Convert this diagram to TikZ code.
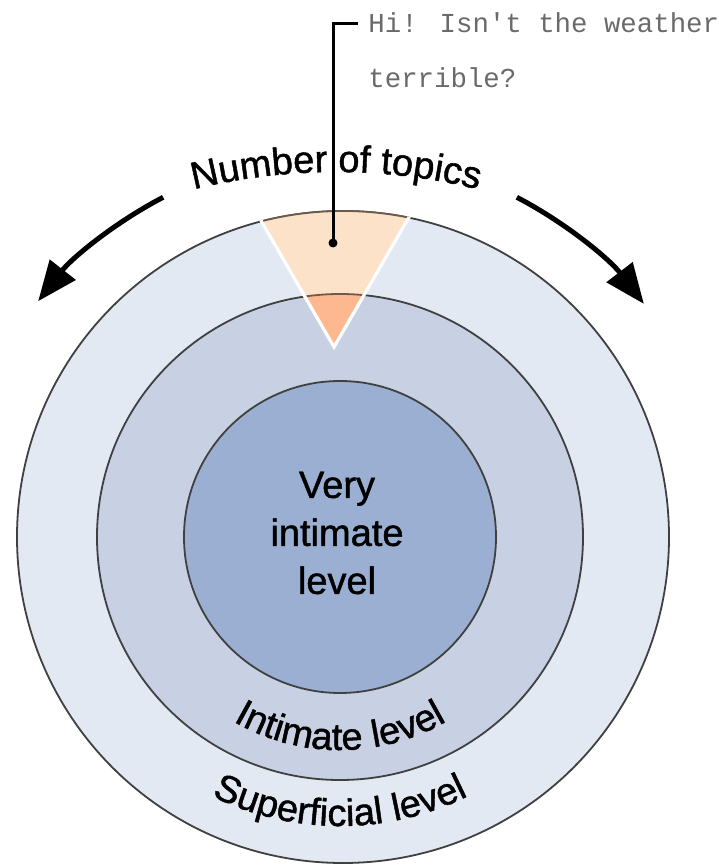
\documentclass[tikz,border=0pt]{standalone}
\usepackage{fontspec}
\setmainfont{Liberation Sans}
\newfontfamily\labelfont{Liberation Sans}[FakeBold=1.2]
\newfontfamily\saymono{Liberation Mono}
\usepackage{xcolor}
\usepackage{tikz}
\usetikzlibrary{arrows.meta, decorations.text}
\definecolor{ringouter}{HTML}{E3E9F3}
\definecolor{ringmiddle}{HTML}{C8D1E3}
\definecolor{ringinner}{HTML}{9AAFD1}
\definecolor{peachlight}{HTML}{FDE2CA}
\definecolor{peachdark}{HTML}{FDB88F}
\definecolor{ringline}{HTML}{404040}
\definecolor{wedgeline}{HTML}{6E5A4C}
\definecolor{saygray}{HTML}{6A6A6A}

\begin{document}
\begin{tikzpicture}[x=0.5pt, y=0.5pt,
      ring/.style={draw=ringline, line width=0.9pt},
      topicarrow/.style={line width=2.5pt, -{Triangle[length=20pt, width=16pt]}},
      leader/.style={line width=1.5pt},
      saytext/.style={font=\saymono\fontsize{13.7}{16}\selectfont, text=saygray, inner xsep=5pt, inner ysep=0pt},
      coretext/.style={font=\labelfont\fontsize{19}{24}\selectfont, align=center},
      arclabel/.style={decorate, decoration={text along path, text align=center, text={|\labelfont\fontsize{19}{19}\selectfont|#1}}}]
    \useasboundingbox (-340,-329) rectangle (378,537);
    \fill[white] (-340,-329) rectangle (378,537);
    \foreach \x/\y/\r/\col in {3/0/326/ringouter, 0/0/243/ringmiddle, 0/0/156/ringinner} {
      \filldraw[ring, fill=\col] (\x,\y) circle[radius=\r];
    }
    \begin{scope}
      \clip (3,0) circle[radius=326];
      \fill[peachlight] (-6,190) -- (-131,406.5) -- (119,406.5) -- cycle;
      \clip (0,0) circle[radius=243];
      \fill[peachdark] (-6,190) -- (-131,406.5) -- (119,406.5) -- cycle;
    \end{scope}
    \begin{scope}
      \clip (-6,190) -- (-131,406.5) -- (119,406.5) -- cycle;
      \draw[wedgeline, line width=0.9pt] (3,0) circle[radius=326];
      \draw[wedgeline, line width=0.9pt] (0,0) circle[radius=243];
    \end{scope}
    \begin{scope}
      \clip (3,0) circle[radius=327];
      \draw[white, line width=1.6pt] (-131,406.5) -- (-6,190) -- (119,406.5);
    \end{scope}
    \node[coretext] (core) at (-3,4) {Very\\intimate\\level};
    \path[arclabel={Intimate level}] (220:213) arc[start angle=220, end angle=320, radius=213];
    \path[arclabel={Superficial level}] (215:289) arc[start angle=215, end angle=325, radius=289];
    \path[arclabel={Number of topics}] ([shift={(-4,-225)}]112:590) arc[start angle=112, end angle=68, radius=590];
    \draw[topicarrow] (117.5:383) arc[start angle=117.5, end angle=142, radius=383];
    \draw[topicarrow] (62.5:383) arc[start angle=62.5, end angle=37.5, radius=383];
    \node[circle, fill=black, inner sep=0pt, minimum size=4.5pt] (dot) at (-7,294) {};
    \node[saytext, anchor=base west] (say1) at (18,504) {Hi! Isn't the weather};
    \node[saytext, anchor=base west] (say2) at ([yshift=-27.5pt]say1.base west) {terrible?};
    \draw[leader] (dot.center) |- (say1.west);
\end{tikzpicture}
\end{document}
